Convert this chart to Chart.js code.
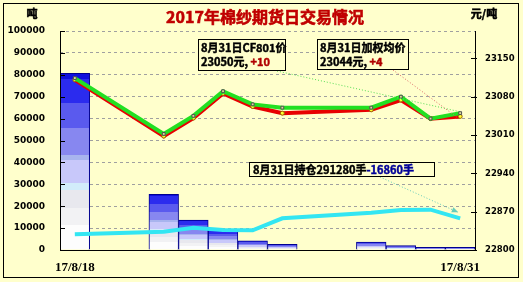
<!DOCTYPE html>
<html>
<head>
<meta charset="utf-8">
<script src="https://cdn.jsdelivr.net/npm/chart.js@4.4.0/dist/chart.umd.min.js"></script>
<style>
	html, body { margin:0; padding:0; background:#ffffcc; }
</style>
</head>
<body>
<canvas id="myChart" width="523" height="282"></canvas>
<script>
// 날짜 (주말은 빈칸)
const days = ['17/8/18','17/8/19','17/8/20','17/8/21','17/8/22','17/8/23','17/8/24',
	'17/8/25','17/8/26','17/8/27','17/8/28','17/8/29','17/8/30','17/8/31'];
// 성교량 (吨)
const volume = [80700, null, null, 25400, 13700, 9000, 4200, 2600, null, null, 3650, 2000, 1200, 1200];
// CY801 가격 / 가중평균가 (元/吨)
const cfPrice = [23114, null, null, 23012, 23045, 23090, 23066, 23060, null, null, 23060, 23080, 23040, 23050];
const avgPrice = [23111, null, null, 23008, 23041, 23086, 23062, 23050, null, null, 23056, 23074, 23040, 23044];
// 持仓
const openInt = [260100, null, null, 265200, 273000, 268500, 267900, 291300, null, null, 302200, 307500, 308140, 291280];
// 축 눈금
const leftTicks = [0, 10000, 20000, 30000, 40000, 50000, 60000, 70000, 80000, 90000, 100000];
const rightTicks = [22800, 22870, 22940, 23010, 23080, 23150];

const last = days.length - 1;
const prev = 12;
const ctx = document.getElementById('myChart');
const cjk = '"Noto Sans CJK SC", sans-serif';

// 막대 그라데이션 (위: 진한 파랑 -> 아래: 흰색)
const bands = [
	[0.00, 0.03, '#1010dd'], [0.03, 0.17, '#2b2bee'], [0.17, 0.31, '#5a5aee'],
	[0.31, 0.46, '#8787f0'], [0.46, 0.49, '#a8b4ee'], [0.49, 0.62, '#c8c8fa'],
	[0.62, 0.66, '#d2ecfa'], [0.66, 0.76, '#e8e8ee'], [0.76, 0.86, '#f2f2f4'],
	[0.86, 1.00, '#fdfdfd']
];
function barFill(c){
	const chart = c.chart;
	if( !chart.chartArea || c.raw == null ) return '#2b2bee';
	const ys = chart.scales.y;
	const top = ys.getPixelForValue(c.raw);
	const base = ys.getPixelForValue(0);
	const g = chart.ctx.createLinearGradient(0, top, 0, base);
	bands.forEach( b => { g.addColorStop(b[0], b[2]); g.addColorStop(b[1], b[2]); } );
	return g;
}

// 굵은 글씨 흉내 (fill + 얇은 stroke)
function boldText(c, t, x, y, color, sw){
	c.fillStyle = color;
	c.strokeStyle = color;
	c.lineWidth = sw;
	c.fillText(t, x, y);
	c.strokeText(t, x, y);
}

function drawParts(c, x, y, parts){
	parts.forEach( p => {
		boldText(c, p[0], x, y, p[1], 0.45);
		x += c.measureText(p[0]).width;
	});
}

function dotted(c, x1, y1, x2, y2, color, head){
	c.save();
	c.strokeStyle = color;
	c.lineWidth = 1;
	c.setLineDash([1, 2]);
	c.beginPath(); c.moveTo(x1, y1); c.lineTo(x2, y2); c.stroke();
	if( head ){
		const a = Math.atan2(y2 - y1, x2 - x1);
		c.setLineDash([]);
		c.fillStyle = color;
		c.beginPath();
		c.moveTo(x2, y2);
		c.lineTo(x2 - 7*Math.cos(a - 0.4), y2 - 7*Math.sin(a - 0.4));
		c.lineTo(x2 - 7*Math.cos(a + 0.4), y2 - 7*Math.sin(a + 0.4));
		c.closePath(); c.fill();
	}
	c.restore();
}

function textBox(c, x, y, w, h){
	c.fillStyle = '#ffffcc';
	c.fillRect(x, y, w, h);
	c.strokeStyle = '#000';
	c.lineWidth = 1;
	c.strokeRect(x + 0.5, y + 0.5, w, h);
}

const deco = {
	id : 'deco',
	beforeDraw(chart){
		const c = chart.ctx;
		c.save();
		c.fillStyle = '#ffffcc';
		c.fillRect(0, 0, chart.width, chart.height);
		c.restore();
	},
	afterDatasetsDraw(chart){
		const c = chart.ctx, a = chart.chartArea;
		const y = chart.scales.y, y1 = chart.scales.y1;
		c.save();
		c.strokeStyle = '#000';
		c.lineWidth = 1;
		c.beginPath();
		c.moveTo(a.left + 0.5, a.top); c.lineTo(a.left + 0.5, a.bottom + 0.5);
		c.lineTo(a.right + 0.5, a.bottom + 0.5); c.lineTo(a.right + 0.5, a.top);
		leftTicks.forEach( v => { const p = Math.round(y.getPixelForValue(v)) + 0.5; c.moveTo(a.left, p); c.lineTo(a.left + 5, p); });
		rightTicks.forEach( v => { const p = Math.round(y1.getPixelForValue(v)) + 0.5; c.moveTo(a.right - 4, p); c.lineTo(a.right + 2, p); });
		c.stroke();
		c.restore();
	},
	afterDraw(chart){
		const c = chart.ctx;
		const xs = chart.scales.x, y1 = chart.scales.y1, y2 = chart.scales.y2;
		c.save();
		// 바깥 테두리
		c.strokeStyle = '#000';
		c.lineWidth = 1;
		c.strokeRect(3.5, 3.5, 515, 274);
		// 제목
		c.textBaseline = 'middle';
		c.textAlign = 'center';
		c.font = 'bold 16px ' + cjk;
		const title = '2017年棉纱期货日交易情况';
		const w0 = c.measureText(title).width;
		c.letterSpacing = Math.max(0, (190 - w0) / (title.length - 1)) + 'px';
		boldText(c, title, 265, 17, '#c00000', 0.6);
		c.letterSpacing = '0px';
		// 단위
		c.font = 'bold 11px ' + cjk;
		boldText(c, '吨', 32, 14, '#000', 0.5);
		boldText(c, '元/吨', 484, 14, '#000', 0.5);
		// 화살표 (점선)
		const xl = xs.getPixelForValue(last);
		dotted(c, 277, 71, xl - 3, y1.getPixelForValue(cfPrice[last]) - 2, '#55dd55', false);
		dotted(c, 393, 70, xl - 3, y1.getPixelForValue(avgPrice[last]) + 1, '#dd6666', false);
		dotted(c, 380, 177, xl - 2, y2.getPixelForValue(openInt[last]) - 6, '#66ccbb', true);
		// 주석 박스
		c.textAlign = 'left';
		c.font = 'bold 11px ' + cjk;
		textBox(c, 198, 39, 87, 31);
		drawParts(c, 201, 48, [['8月31日CF801价', '#000']]);
		drawParts(c, 201, 62, [[cfPrice[last] + '元, ', '#000'], ['+' + (cfPrice[last] - cfPrice[prev]), '#b00000']]);
		textBox(c, 317, 39, 91, 30);
		drawParts(c, 320, 48, [['8月31日加权均价', '#000']]);
		drawParts(c, 320, 62, [[avgPrice[last] + '元, ', '#000'], ['+' + (avgPrice[last] - avgPrice[prev]), '#b00000']]);
		textBox(c, 249, 162, 185, 14);
		drawParts(c, 253, 169.5, [['8月31日持仓' + openInt[last] + '手', '#000'], [(openInt[last] - openInt[prev]) + '手', '#000099']]);
		c.restore();
	}
};

new Chart(ctx, {
	type : 'bar',
	data : {
		labels : days,
		datasets : [
			{
				type : 'line', label : 'CF801价', data : cfPrice, yAxisID : 'y1', order : 0,
				borderColor : '#22e022', borderWidth : 4, spanGaps : true, tension : 0,
				pointStyle : 'rect', pointRadius : 2, pointBackgroundColor : '#dddd99',
				pointBorderColor : '#505050', pointBorderWidth : 1
			},
			{
				type : 'line', label : '加权均价', data : avgPrice, yAxisID : 'y1', order : 1,
				borderColor : '#e80000', borderWidth : 4, spanGaps : true, tension : 0,
				pointRadius : 2, pointBackgroundColor : '#ffff33', pointBorderColor : '#996600', pointBorderWidth : 1
			},
			{
				type : 'line', label : '持仓', data : openInt, yAxisID : 'y2', order : 2,
				borderColor : '#33e6f2', borderWidth : 4, spanGaps : true, tension : 0, pointRadius : 0
			},
			{
				label : '成交量', data : volume, yAxisID : 'y', order : 3,
				backgroundColor : barFill, borderColor : '#000090', borderWidth : 1,
				barPercentage : 1, categoryPercentage : 1
			}
		]
	},
	options : {
		responsive : false,
		animation : false,
		layout : { padding : { top : 31, left : 0, right : 0, bottom : 0 } },
		plugins : { legend : { display : false }, tooltip : { enabled : false } },
		scales : {
			x : {
				grid : { display : false, drawTicks : false },
				border : { display : false },
				afterFit : (s) => { s.height = 32; },
				ticks : {
					autoSkip : false, maxRotation : 0, padding : 10, color : '#000',
					font : { family : 'Liberation Serif', weight : 'bold', size : 13 },
					callback : function(v, i){ return (i == 0 || i == last) ? days[i] : ''; }
				}
			},
			y : {
				position : 'left', min : 0, max : 100000,
				afterFit : (s) => { s.width = 60; },
				afterBuildTicks : (s) => { s.ticks = leftTicks.map( v => ({ value : v }) ); },
				grid : { color : '#a0a0a0', lineWidth : 1, drawTicks : false },
				border : { display : false, dash : [3, 3] },
				ticks : {
					padding : 15, color : '#000', font : { family : 'DejaVu Sans', weight : 'bold', size : 9 },
					callback : (v) => String(v)
				}
			},
			y1 : {
				position : 'right', min : 22800, max : 23200,
				afterFit : (s) => { s.width = 48; },
				afterBuildTicks : (s) => { s.ticks = rightTicks.map( v => ({ value : v }) ); },
				grid : { display : false, drawTicks : false },
				border : { display : false },
				ticks : {
					padding : 10, color : '#000', font : { family : 'DejaVu Sans', weight : 'bold', size : 8.5 },
					callback : (v) => String(v)
				}
			},
			y2 : { display : false, min : 229500, max : 656500 }
		}
	},
	plugins : [deco]
});
</script>
</body>
</html>
